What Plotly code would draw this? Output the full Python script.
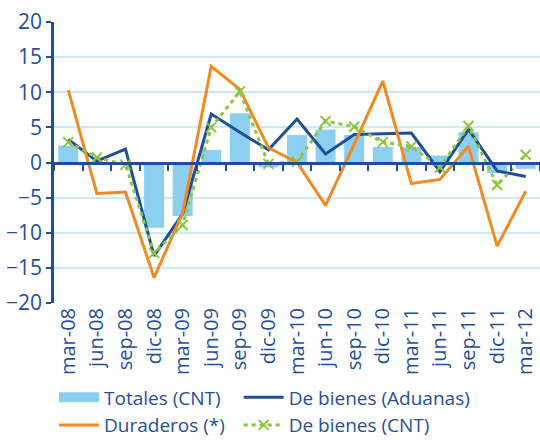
import plotly.graph_objects as go

cats = ["mar-08", "jun-08", "sep-08", "dic-08", "mar-09", "jun-09", "sep-09", "dic-09",
        "mar-10", "jun-10", "sep-10", "dic-10", "mar-11", "jun-11", "sep-11", "dic-11", "mar-12"]
totales_cnt = [2.4, 0.0, 0.0, -9.3, -7.6, 1.8, 7.0, -0.7, 3.9, 4.7, 3.9, 2.2, 2.2, 1.0, 4.3, -1.5, -0.9]
bienes_aduanas = [3.3, 0.2, 1.9, -13.3, -7.3, 6.9, 4.3, 1.8, 6.2, 1.2, 4.0, 4.1, 4.2, -1.3, 4.7, -1.2, -2.0]
duraderos = [10.3, -4.4, -4.2, -16.4, -7.2, 13.7, 10.4, 2.1, 0.0, -6.1, 2.6, 11.6, -3.0, -2.4, 2.3, -11.9, -4.1]
bienes_cnt = [2.9, 0.7, -0.3, -12.9, -8.9, 5.0, 10.1, -0.2, 0.1, 5.9, 5.1, 2.9, 2.3, -0.7, 5.2, -3.2, 1.1]
y_ticks = [-20, -15, -10, -5, 0, 5, 10, 15, 20]

DARK = "#1f4f9b"
LIGHT = "#8dcff0"
ORANGE = "#f28a24"
GREEN = "#8cc63f"
GRID = "#cde8f6"
FONT = "Open Sans"

fig = go.Figure()
fig.add_trace(go.Bar(x=cats, y=totales_cnt, name="Totales (CNT)", marker_color=LIGHT,
                     marker_line_width=0, showlegend=False))
# legend proxy for the bars (wide swatch like the reference)
fig.add_trace(go.Scatter(x=[None], y=[None], name="Totales (CNT)", mode="lines",
                         line=dict(color=LIGHT, width=13), hoverinfo="skip", legend="legend"))
fig.add_trace(go.Scatter(x=cats, y=bienes_aduanas, name="De bienes (Aduanas)", mode="lines",
                         line=dict(color=DARK, width=3), legend="legend2"))
fig.add_trace(go.Scatter(x=cats, y=duraderos, name="Duraderos (*)", mode="lines",
                         line=dict(color=ORANGE, width=3), legend="legend"))
fig.add_trace(go.Scatter(x=cats, y=bienes_cnt, name="De bienes (CNT)", mode="lines+markers",
                         line=dict(color=GREEN, width=3, dash="4px,4px"),
                         marker=dict(symbol="x-thin", size=10, line=dict(color=GREEN, width=2)),
                         legend="legend2"))
# invisible helper trace for the zero-axis tick marks
fig.add_trace(go.Scatter(x=cats, y=[0] * len(cats), xaxis="x2", mode="lines",
                         line=dict(width=0), showlegend=False, hoverinfo="skip", opacity=0))

legend_common = dict(orientation="v", yanchor="bottom", y=-0.503, tracegroupgap=0,
                     font=dict(family=FONT, size=19, color=DARK), itemwidth=40,
                     bgcolor="rgba(0,0,0,0)", traceorder="normal")

fig.update_layout(
    width=540, height=445,
    margin=dict(l=54, r=0, t=22, b=142),
    paper_bgcolor="white", plot_bgcolor="white",
    font=dict(family=FONT, color=DARK, size=19),
    bargap=0.3,
    showlegend=True,
    legend=dict(x=0.0, xanchor="left", **legend_common),
    legend2=dict(x=0.38, xanchor="left", **legend_common),
    xaxis=dict(type="category", categoryorder="array", categoryarray=cats,
               range=[-0.5, 16.5], showgrid=False, showline=False, zeroline=False,
               ticks="", tickangle=-90, automargin=False,
               tickfont=dict(family=FONT, size=20, color=DARK)),
    xaxis2=dict(type="category", categoryorder="array", categoryarray=cats,
                range=[-0.5, 16.5], overlaying="x", anchor="free", position=0.5, side="bottom",
                showline=True, linecolor=DARK, linewidth=3, showgrid=False, zeroline=False,
                ticks="outside", ticklen=6, tickwidth=1.5, tickcolor=DARK, tickson="boundaries",
                showticklabels=False),
    yaxis=dict(range=[-20, 20], tickvals=y_ticks, showgrid=True, gridcolor=GRID, gridwidth=1.5,
               zeroline=False, showline=True, linecolor=DARK, linewidth=2.5,
               ticks="outside", ticklen=5, tickwidth=2, tickcolor=DARK, automargin=False,
               tickfont=dict(family=FONT, size=21, color=DARK)),
)

fig.write_html("out.html", config={"displayModeBar": False},
               post_script="document.body.style.margin='0';document.body.style.overflow='hidden';")
